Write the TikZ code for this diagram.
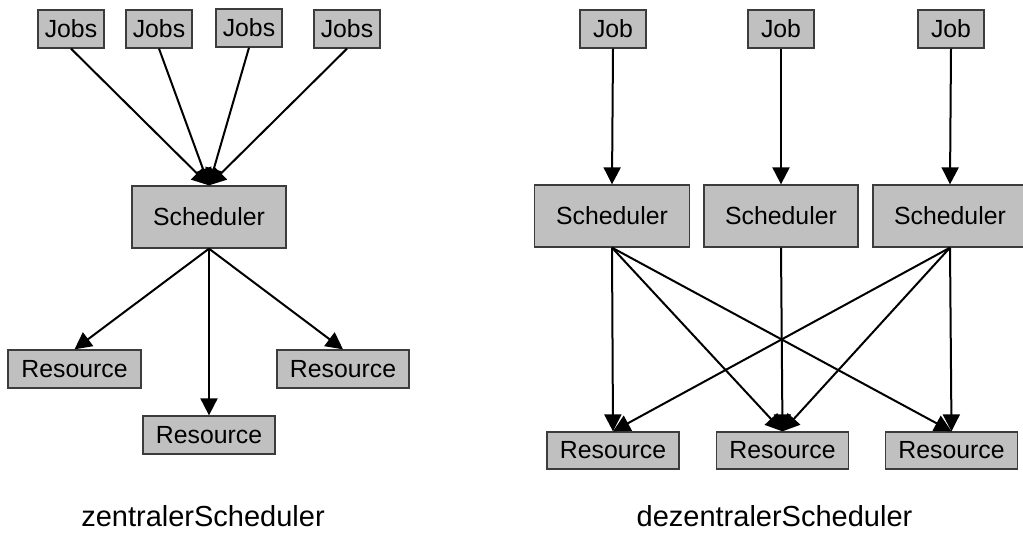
\documentclass[tikz,border=0pt]{standalone}
\usepackage{fontspec}
\setmainfont{Liberation Sans}
\usetikzlibrary{arrows.meta}
\definecolor{boxfill}{RGB}{192,192,192}
\definecolor{boxline}{RGB}{60,60,60}
\begin{document}
\begin{tikzpicture}[x=1pt,y=-1pt,
  box/.style={draw=boxline,line width=1.3pt,fill=boxfill,inner sep=0pt,
    font=\fontsize{24.8}{28}\selectfont},
  small/.style={box,minimum width=66pt,minimum height=38pt},
  res/.style={box,minimum width=132pt,minimum height=38pt},
  sched/.style={box,minimum width=154pt,minimum height=62pt},
  conn/.style={line width=2pt,-{Triangle[length=17pt,width=17pt]}},
  caption/.style={font=\fontsize{29}{32}\selectfont}]
\useasboundingbox (0,0) rectangle (1023,536);
\clip (0,0) rectangle (1023,536);
% left: central scheduler
\node[small] (j1) at (71,29) {Jobs};
\node[small] (j2) at (159,29) {Jobs};
\node[small] (j3) at (249,28) {Jobs};
\node[small] (j4) at (347,29) {Jobs};
\node[sched] (s) at (209,217) {Scheduler};
\node[res,minimum width=133pt] (r1) at (74.5,369) {Resource};
\node[res] (r2) at (209,435) {Resource};
\node[res] (r3) at (343,369) {Resource};
\foreach \j in {j1,j2,j3,j4} \draw[conn] (\j.south) -- (s.north);
\foreach \r in {r1,r2,r3} \draw[conn] (s.south) -- (\r.north);
\node[caption] (cl) at (203,516) {zentralerScheduler};
% right: decentral schedulers
\node[small] (dj1) at (613,29) {Job};
\node[small] (dj2) at (781,29) {Job};
\node[small] (dj3) at (951,29) {Job};
\node[sched,minimum width=155pt] (ds1) at (612,216) {Scheduler};
\node[sched] (ds2) at (781,216) {Scheduler};
\node[sched] (ds3) at (950,216) {Scheduler};
\node[res,minimum height=37pt] (dr1) at (613,450.5) {Resource};
\node[res,minimum height=37pt] (dr2) at (782.5,450.5) {Resource};
\node[res,minimum height=37pt] (dr3) at (951.5,450.5) {Resource};
\draw[conn] (dj1.south) -- (ds1.north);
\draw[conn] (dj2.south) -- (ds2.north);
\draw[conn] (dj3.south) -- (ds3.north);
\draw[conn] (ds1.south) -- (dr1.north);
\draw[conn] (ds1.south) -- (dr2.north);
\draw[conn] (ds1.south) -- (dr3.north);
\draw[conn] (ds2.south) -- (dr2.north);
\draw[conn] (ds3.south) -- (dr1.north);
\draw[conn] (ds3.south) -- (dr2.north);
\draw[conn] (ds3.south) -- (dr3.north);
\node[caption] (cr) at (774.5,516) {dezentralerScheduler};
\end{tikzpicture}
\end{document}
